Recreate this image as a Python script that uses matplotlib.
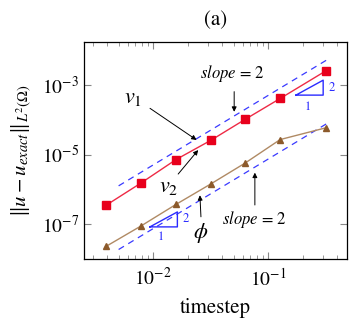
import matplotlib.pyplot as plt
import numpy as np

plt.rcParams['font.family'] = 'STIXGeneral'
plt.rcParams['mathtext.fontset'] = 'stix'

# data
timestep = [0.0039, 0.0079, 0.0158, 0.0319, 0.063, 0.127, 0.318]
err_v = [3.5e-7, 1.55e-6, 7.2e-6, 2.6e-5, 1.03e-4, 4.1e-4, 2.57e-3]
err_phi = [2.3e-8, 9.0e-8, 3.7e-7, 1.45e-6, 5.7e-6, 2.7e-5, 5.9e-5]

# slope-2 reference lines
ref_x = [0.005, 0.324]
ref_hi = [1.26e-6 * (x / 0.005) ** 2 for x in ref_x]
ref_lo = [1.86e-8 * (x / 0.005) ** 2 for x in ref_x]

fig = plt.figure(figsize=(3.5, 3.2), dpi=100)
ax = fig.add_axes([0.24, 0.191, 0.751, 0.678])

ax.plot(ref_x, ref_hi, ls=(0, (5, 4)), color='#3a3aff', lw=0.9)
ax.plot(ref_x, ref_lo, ls=(0, (5, 4)), color='#3a3aff', lw=0.9)
ax.plot(timestep, err_v, color='#ee2a45', lw=1.0, marker='s', ms=6,
        mfc='#e8001c', mec='#e8001c')
ax.plot(timestep, err_phi, color='#b08a64', lw=1.0, marker='^', ms=5,
        mfc='#8c5a2b', mec='#8c5a2b')

# slope triangles
for x0, x1, y0, y1 in [(10**-0.759, 10**-0.522, 10**-3.29, 10**-2.86),
                       (10**-2.029, 10**-1.79, 10**-7.08, 10**-6.65)]:
    ax.plot([x0, x1, x1, x0], [y0, y0, y1, y0], color='#2b2bff', lw=1.0)
ax.text(10**-0.45, 10**-3.08, '2', color='#2b2bff', fontsize=9, ha='center', va='center')
ax.text(10**-0.655, 10**-3.63, '1', color='#2b2bff', fontsize=9, ha='center', va='center')
ax.text(10**-1.72, 10**-6.86, '2', color='#2b2bff', fontsize=9, ha='center', va='center')
ax.text(10**-1.93, 10**-7.36, '1', color='#2b2bff', fontsize=9, ha='center', va='center')

# annotations: label text, arrow start, arrow tip (log10 coords)
labels = ['$slope$ = 2', '$v_1$', '$v_2$', r'$\phi$', '$slope$ = 2']
label_pos = [(-1.307, -2.68), (-2.174, -3.38), (-1.87, -5.94), (-1.585, -7.27), (-1.122, -6.88)]
arrow_from = [(-1.296, -3.19), (-2.028, -3.67), (-1.783, -5.56), (-1.585, -6.79), (-1.116, -6.45)]
arrow_to = [(-1.296, -3.77), (-1.623, -4.58), (-1.609, -4.87), (-1.594, -6.17), (-1.116, -5.52)]
sizes = [12, 16, 16, 16, 12]

arr = dict(arrowstyle='-|>', color='black', lw=0.7, mutation_scale=7, shrinkA=0, shrinkB=0)
for lab, p, a, b, fs in zip(labels, label_pos, arrow_from, arrow_to, sizes):
    ax.text(10**p[0], 10**p[1], lab, fontsize=fs, ha='center', va='center')
    ax.annotate('', xy=(10**b[0], 10**b[1]), xytext=(10**a[0], 10**a[1]), arrowprops=arr)

ax.set_xscale('log')
ax.set_yscale('log')
ax.set_xlim(0.0025, 0.483)
ax.set_ylim(1e-8, 10**-1.76)
ax.set_yticks([1e-7, 1e-5, 1e-3])
ax.yaxis.set_minor_locator(plt.NullLocator())
ax.tick_params(which='both', direction='in', top=True, right=True,
               color='#888888', labelsize=14)
ax.tick_params(which='major', length=5)
ax.tick_params(which='minor', length=3)
ax.tick_params(axis='x', pad=6)
for s in ax.spines.values():
    s.set_linewidth(0.9)

ax.set_xlabel('timestep', fontsize=15, labelpad=6)
ax.set_ylabel(r'$\Vert u - u_{exact}\Vert_{L^2(\Omega)}$', fontsize=15, labelpad=6)
ax.set_title('(a)', fontsize=15, pad=12)

fig.savefig('out.png', dpi=100)
